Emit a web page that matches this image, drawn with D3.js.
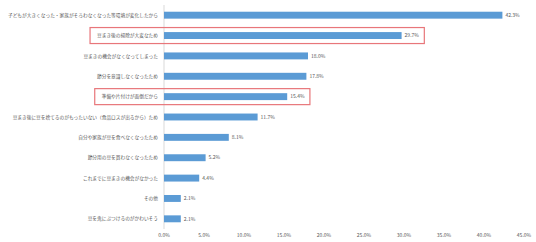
<!DOCTYPE html>
<html>
<head>
<meta charset="utf-8">
<script src="https://cdn.jsdelivr.net/npm/d3@7"></script>
<style>
  body { margin: 0; background: #fff; }
  text { font-family: "Noto Sans CJK JP", "Noto Sans", sans-serif; fill: #595959; }
</style>
</head>
<body>
<svg id="chart"></svg>
<script>
var reasons = [
  "子どもが大きくなった・家族がそろわなくなった等環境が変化したから",
  "豆まき後の掃除が大変なため",
  "豆まきの機会がなくなってしまった",
  "節分を意識しなくなったため",
  "準備や片付けが面倒だから",
  "豆まき後に豆を捨てるのがもったいない（食品ロスが出るから）ため",
  "自分や家族が豆を食べなくなったため",
  "節分用の豆を買わなくなったため",
  "これまでに豆まきの機会がなかった",
  "その他",
  "豆を鬼にぶつけるのがかわいそう"
];
var percents = [42.3, 29.7, 18.0, 17.8, 15.4, 11.7, 8.1, 5.2, 4.4, 2.1, 2.1];
var ticks = [0, 5, 10, 15, 20, 25, 30, 35, 40, 45];
var highlighted = [1, 4];

var width = 536, height = 242;
var svg = d3.select("#chart").attr("width", width).attr("height", height);

var x = d3.scaleLinear().domain([0, 45]).range([164, 524]);
var y = d3.scaleBand().domain(d3.range(reasons.length)).range([5, 229]).paddingInner(0.66).paddingOuter(0.33);

// vertical axis line
svg.append("line")
  .attr("x1", x(0)).attr("x2", x(0))
  .attr("y1", 5).attr("y2", 229)
  .attr("stroke", "#d9d9d9").attr("stroke-width", 1);

svg.selectAll("rect.bar").data(percents).enter().append("rect")
  .attr("class", "bar")
  .attr("x", x(0))
  .attr("y", function(d, i) { return y(i); })
  .attr("width", function(d) { return x(d) - x(0); })
  .attr("height", y.bandwidth())
  .attr("fill", "#5b9bd5");

var labels = svg.selectAll("text.cat").data(reasons).enter().append("text")
  .attr("class", "cat")
  .attr("x", x(0) - 6)
  .attr("y", function(d, i) { return y(i) + y.bandwidth() / 2; })
  .attr("dy", "0.35em")
  .attr("text-anchor", "end")
  .style("font-size", "4.7px")
  .text(function(d) { return d; });

var values = svg.selectAll("text.val").data(percents).enter().append("text")
  .attr("class", "val")
  .attr("x", function(d) { return x(d) + 3; })
  .attr("y", function(d, i) { return y(i) + y.bandwidth() / 2; })
  .attr("dy", "0.35em")
  .style("font-size", "5px")
  .text(function(d) { return d.toFixed(1) + "%"; });

svg.selectAll("text.tick").data(ticks).enter().append("text")
  .attr("class", "tick")
  .attr("x", function(d) { return x(d); })
  .attr("y", 237)
  .attr("text-anchor", "middle")
  .style("font-size", "5px")
  .text(function(d) { return d.toFixed(1) + "%"; });

// red highlight boxes
highlighted.forEach(function(i) {
  var lb = labels.nodes()[i].getBBox();
  var vb = values.nodes()[i].getBBox();
  var cy = y(i) + y.bandwidth() / 2;
  svg.append("rect")
    .attr("x", lb.x - 7)
    .attr("y", cy - 8)
    .attr("width", (vb.x + vb.width + 5) - (lb.x - 7))
    .attr("height", 16)
    .attr("fill", "none")
    .attr("stroke", "#e8767a")
    .attr("stroke-width", 1.2);
});
</script>
</body>
</html>
